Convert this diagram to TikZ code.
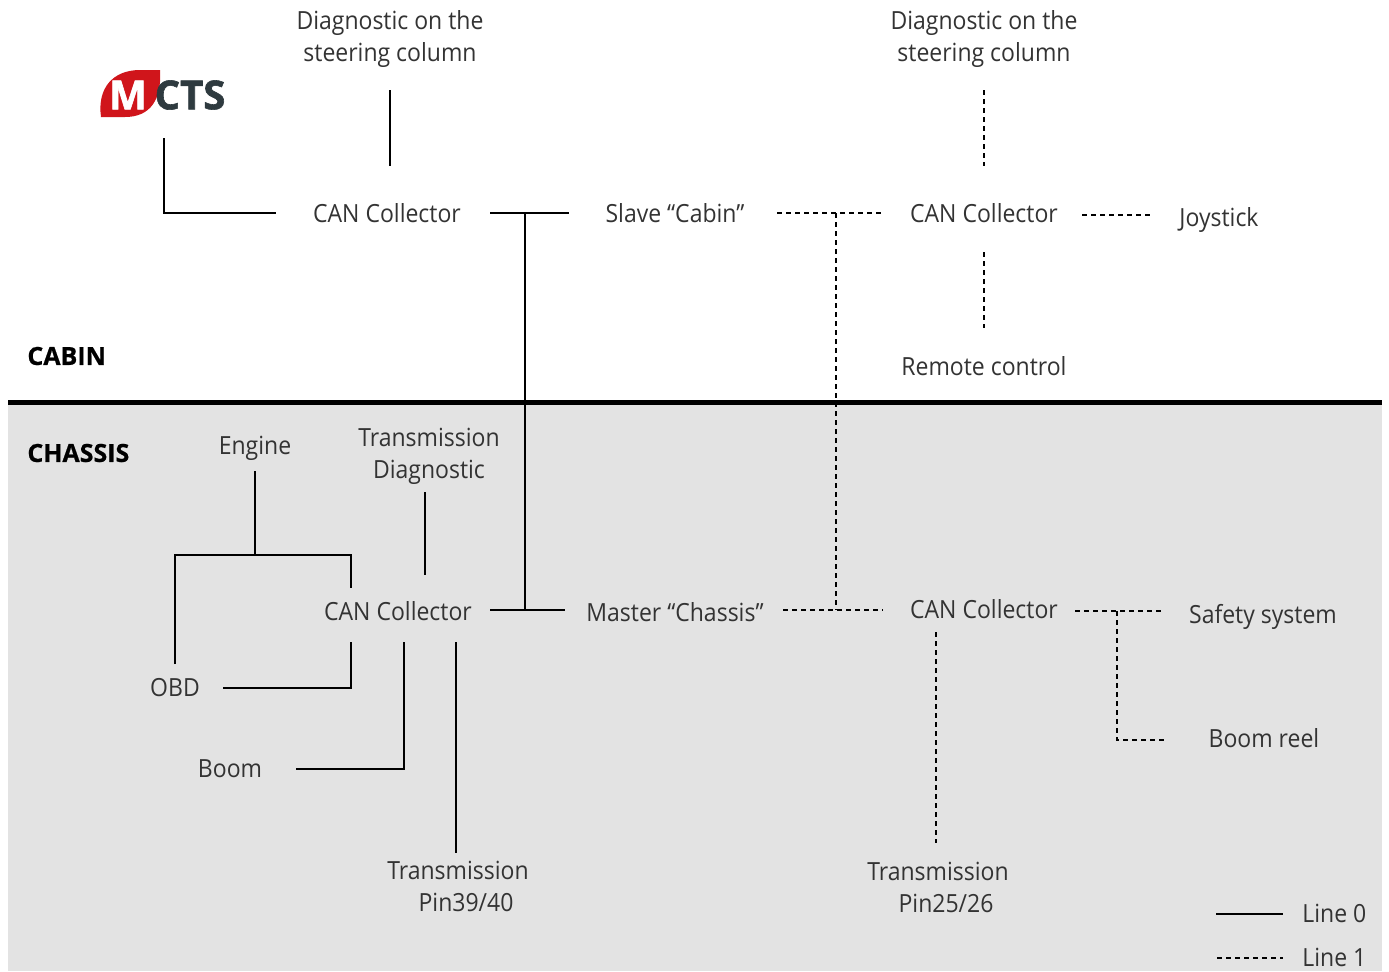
\documentclass[tikz,border=0pt]{standalone}
\usepackage{fontspec}
\setmainfont{Open Sans}[FakeStretch=0.92]
\newfontfamily\headfont{Open Sans}[BoldFeatures={FakeBold=0.6}]
\newfontfamily\logofont{Open Sans}[BoldFeatures={FakeBold=1.5}]
\usepackage{xcolor}
\usepackage{tikz}
\usetikzlibrary{positioning}
\definecolor{chassisgrey}{HTML}{E3E3E3}
\definecolor{textgrey}{HTML}{333333}
\definecolor{mctsred}{HTML}{D0151B}
\definecolor{mctsdark}{HTML}{2E3A3F}
\tikzstyle{lbl} = [inner sep=0pt, text=textgrey, align=center,
    font=\fontsize{12.5}{16}\selectfont]
\tikzstyle{area} = [inner sep=0pt, anchor=west, font=\headfont\bfseries\fontsize{12.5}{15}\selectfont]
\tikzstyle{logotext} = [inner sep=0pt, font=\logofont\bfseries\fontsize{20}{20}\selectfont]
\tikzstyle{line0} = [line width=0.7pt]
\tikzstyle{line1} = [line width=0.7pt, dash pattern=on 2.5pt off 2pt]

\begin{document}
\begin{tikzpicture}[x=0.5pt, y=-0.5pt]
    \useasboundingbox (0,0) rectangle (1389,971);

    % Chassis area
    \fill [chassisgrey] (8,402) rectangle (1382,971);
    \draw [line width=2.5pt] (8,402) -- (1382,402);

    % Logo
    \fill [mctsred] (101,117) .. controls (97,88) and (113,70) .. (140,70) -- (160,70)
        .. controls (162,100) and (150,117) .. (125,117) -- cycle;
    \node [logotext, text=white] (LogoM) at (128,95) {M};
    \node [logotext, text=mctsdark] (LogoCTS) at (190,95) {CTS};
    \coordinate (Logo) at (164,94);

    % Place nodes
    \node [area] (Cabin) at (27,356) {CABIN};
    \node [area] (Chassis) at (27,453) {CHASSIS};
    \node [lbl] (DiagA) at (390,39) {Diagnostic on the\\steering column};
    \node [lbl] (DiagB) at (984,39) {Diagnostic on the\\steering column};
    \node [lbl] (CollCabin) at (387,213) {CAN Collector};
    \node [lbl] (Slave) at (675,213) {Slave “Cabin”};
    \node [lbl] (CollRemote) at (984,213) {CAN Collector};
    \node [lbl] (Joystick) at (1219,220) {Joystick};
    \node [lbl] (Remote) at (984,366) {Remote control};
    \node [lbl] (Engine) at (255,448) {Engine};
    \node [lbl] (TransDiag) at (429,456) {Transmission\\Diagnostic};
    \node [lbl] (CollChassis) at (398,611) {CAN Collector};
    \node [lbl] (OBD) at (175,688) {OBD};
    \node [lbl] (Boom) at (230,769) {Boom};
    \node [lbl] (TransA) at (458,886) {Transmission\\\hspace*{8pt}Pin39/40};
    \node [lbl] (Master) at (675,612) {Master “Chassis”};
    \node [lbl] (CollRear) at (984,609) {CAN Collector};
    \node [lbl] (TransB) at (938,887) {Transmission\\\hspace*{8pt}Pin25/26};
    \node [lbl] (Safety) at (1263,617) {Safety system};
    \node [lbl] (BoomReel) at (1264,738) {Boom reel};
    \node [lbl, anchor=west] (LineA) at (1302,913) {Line 0};
    \node [lbl, anchor=west] (LineB) at (1302,957) {Line 1};

    % Line 0
    \draw [line0, shorten <=22pt, shorten >=55.5pt] (Logo) |- (CollCabin.center);
    \draw [line0, shorten <=25.5pt, shorten >=23.5pt] (DiagA.center) -- (DiagA.center |- CollCabin.center);
    \draw [line0, shorten <=51.5pt, shorten >=53pt] (CollCabin.center) -- (Slave.center);
    \coordinate (BusTop) at (525,213);
    \coordinate (BusBot) at (525,610);
    \draw [line0] (BusTop) -- (BusBot);
    \draw [line0, shorten <=46pt, shorten >=55pt] (CollChassis.center |- BusBot) -- (Master.center |- BusBot);
    \coordinate (EngSplit) at (255,555);
    \draw [line0, shorten <=11.5pt] (Engine.center) -- (EngSplit);
    \draw [line0, shorten <=12pt] (OBD.center) |- (EngSplit);
    \draw [line0, shorten >=11.5pt] (EngSplit) -| ([xshift=-23.5pt]CollChassis.center);
    \draw [line0, shorten <=18pt, shorten >=18pt] ([xshift=-2pt]TransDiag.center) -- ([xshift=-2pt]TransDiag.center |- CollChassis.center);
    \draw [line0, shorten <=15.5pt, shorten >=24pt] ([xshift=-23.5pt]CollChassis.center) |- (OBD.center);
    \draw [line0, shorten <=15.5pt, shorten >=33pt] ([xshift=3pt]CollChassis.center) |- (Boom.center);
    \draw [line0, shorten <=15.5pt, shorten >=16.5pt] ([xshift=29pt]CollChassis.center) -- ([xshift=29pt]CollChassis.center |- TransA.center);

    % Line 1
    \draw [line1, shorten <=25.5pt, shorten >=23.5pt] (DiagB.center) -- (DiagB.center |- CollRemote.center);
    \draw [line1, shorten <=51pt, shorten >=50.5pt] (Slave.center) -- (CollRemote.center);
    \coordinate (LinkTop) at (836,213);
    \coordinate (LinkBot) at (836,610);
    \draw [line1] (LinkTop) -- (LinkBot);
    \draw [line1, shorten <=54pt, shorten >=50.5pt] (Master.center |- LinkBot) -- (CollRear.center |- LinkBot);
    \draw [line1, shorten <=49pt, shorten >=34.5pt] ([yshift=-1pt]CollRemote.center) -- ([yshift=-1pt]CollRemote.center -| Joystick.center);
    \draw [line1, shorten <=19.5pt, shorten >=19pt] (CollRemote.center) -- (Remote.center);
    \draw [line1, shorten <=11.5pt, shorten >=22pt] ([xshift=-24pt]CollRear.center) -- ([xshift=-24pt]CollRear.center |- TransB.center);
    \coordinate (SafetySplit) at (1117,611);
    \draw [line1, shorten <=45.5pt, shorten >=50pt] (CollRear.center |- SafetySplit) -- (Safety.center |- SafetySplit);
    \draw [line1, shorten >=49.5pt] (SafetySplit) |- ([yshift=-1pt]BoomReel.center);

    % Legend
    \draw [line0] ([xshift=-43pt,yshift=-0.5pt]LineA.west) -- ([xshift=-9.5pt,yshift=-0.5pt]LineA.west);
    \draw [line1] ([xshift=-42.5pt,yshift=-0.5pt]LineB.west) -- ([xshift=-9.5pt,yshift=-0.5pt]LineB.west);

\end{tikzpicture}
\end{document}
